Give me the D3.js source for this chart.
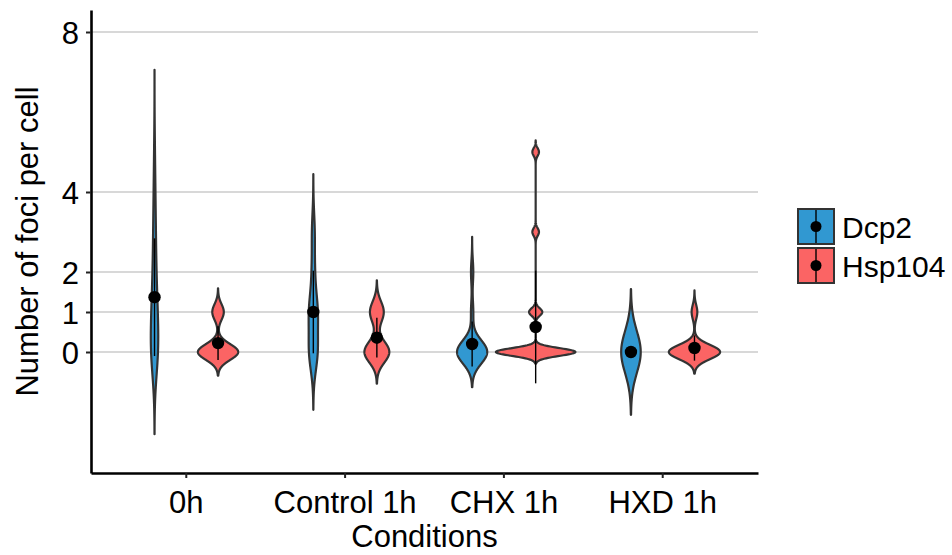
<!DOCTYPE html>
<html>
<head>
<meta charset="utf-8">
<script src="https://cdn.jsdelivr.net/npm/d3@7"></script>
<style>
  body { margin: 0; background: #fff; }
  text { font-family: "Liberation Sans", Arial, sans-serif; fill: #000; }
</style>
</head>
<body>
<div id="chart"></div>
<script>
// conditions on the x axis, proteins as dodged violins
const conditions = ["0h", "Control 1h", "CHX 1h", "HXD 1h"];
const proteins = ["Dcp2", "Hsp104"];
const colors = ["#3198d1", "#fb6464"];

// number of cells with 0, 1, 2, ... foci
const dcp2Counts = [
    [10, 7, 4, 3, 2, 1],
    [6, 6, 2, 2],
    [13, 1, 1],
    [15]
];
const hsp104Counts = [
    [21, 6],
    [9, 5],
    [12, 2, 0, 1, 0, 1],
    [9, 1]
];
const yTicks = [0, 1, 2, 4, 8];

// expand counts to raw values
function expand(counts) {
    const out = [];
    counts.forEach((c, k) => { for (let i = 0; i < c; i++) out.push(k); });
    return out;
}

// R's bw.nrd0
function bwNrd0(v) {
    const s = d3.deviation(v) || 0;
    const sorted = v.slice().sort(d3.ascending);
    const iqr = d3.quantileSorted(sorted, 0.75) - d3.quantileSorted(sorted, 0.25);
    let lo = Math.min(s, iqr / 1.34);
    if (!lo) lo = s || Math.abs(sorted[0]) || 1;
    return 0.9 * lo * Math.pow(v.length, -0.2);
}

// gaussian density, untrimmed (cut = 3)
function density(v) {
    const bw = bwNrd0(v);
    const lo = d3.min(v) - 3 * bw, hi = d3.max(v) + 3 * bw;
    const n = 512;
    const pts = [];
    for (let i = 0; i < n; i++) {
        const t = lo + (hi - lo) * i / (n - 1);
        let s = 0;
        for (const xi of v) {
            const z = (t - xi) / bw;
            s += Math.exp(-0.5 * z * z);
        }
        pts.push({v: t, d: s / (v.length * bw * Math.sqrt(2 * Math.PI))});
    }
    return pts;
}

const groups = [];
conditions.forEach((c, i) => {
    [dcp2Counts[i], hsp104Counts[i]].forEach((counts, j) => {
        const values = expand(counts);
        const m = d3.mean(values), sd = d3.deviation(values) || 0;
        groups.push({
            condition: c, protein: proteins[j], color: colors[j],
            dens: density(values), mean: m, lo: m - sd, hi: m + sd
        });
    });
});
const maxD = d3.max(groups, g => d3.max(g.dens, p => p.d));

const svg = d3.select("#chart").append("svg")
    .attr("width", 952).attr("height", 555);

const x = d3.scaleBand().domain(conditions).range([91, 758])
    .paddingInner(0).paddingOuter(0.1);
const xSub = d3.scaleBand().domain(proteins)
    .range([0.1 * x.bandwidth(), 0.9 * x.bandwidth()]);
const y = d3.scaleLinear().domain([-3.025, 8.55]).range([473, 10]);
const halfMax = 0.25 * x.bandwidth();
const cx = g => x(g.condition) + xSub(g.protein) + xSub.bandwidth() / 2;

// grid
svg.append("g").selectAll("line")
    .data(yTicks)
    .enter()
    .append("line")
    .attr("x1", 91).attr("x2", 758)
    .attr("y1", d => y(d)).attr("y2", d => y(d))
    .attr("stroke", "#cbcbcb")
    .attr("stroke-width", 1.6);

// violins
svg.append("g").selectAll("path")
    .data(groups)
    .enter()
    .append("path")
    .attr("d", g => d3.area()
        .y(p => y(p.v))
        .x0(p => cx(g) - p.d / maxD * halfMax)
        .x1(p => cx(g) + p.d / maxD * halfMax)(g.dens))
    .attr("fill", g => g.color)
    .attr("stroke", "#333333")
    .attr("stroke-width", 2.2)
    .attr("stroke-linejoin", "round");

// mean +/- sd
svg.append("g").selectAll("line")
    .data(groups)
    .enter()
    .append("line")
    .attr("x1", cx).attr("x2", cx)
    .attr("y1", g => y(g.lo)).attr("y2", g => y(g.hi))
    .attr("stroke", "#000")
    .attr("stroke-width", 1.4);

svg.append("g").selectAll("circle")
    .data(groups)
    .enter()
    .append("circle")
    .attr("cx", cx)
    .attr("cy", g => y(g.mean))
    .attr("r", 6.2)
    .attr("fill", "#000");

// axes
const yAxis = svg.append("g")
    .attr("transform", "translate(91,0)")
    .call(d3.axisLeft(y).tickValues(yTicks).tickSize(5).tickSizeOuter(0).tickPadding(7));
const xAxis = svg.append("g")
    .attr("transform", "translate(0,473)")
    .call(d3.axisBottom(x).tickSize(5).tickSizeOuter(0).tickPadding(13));

[yAxis, xAxis].forEach(a => {
    a.select(".domain").attr("stroke", "#000").attr("stroke-width", 2.6);
    a.selectAll(".tick line").attr("stroke", "#222").attr("stroke-width", 2);
    a.selectAll(".tick text")
        .style("font-family", "'Liberation Sans', Arial, sans-serif")
        .style("font-size", "31px")
        .attr("fill", "#000");
});
yAxis.selectAll(".tick text").attr("dy", "0.36em");
xAxis.selectAll(".tick text").attr("dy", "0.71em");

svg.append("text")
    .attr("x", 424.5).attr("y", 547)
    .attr("text-anchor", "middle")
    .style("font-size", "31px")
    .text("Conditions");

svg.append("text")
    .attr("transform", "translate(38,241.5) rotate(-90)")
    .attr("text-anchor", "middle")
    .style("font-size", "31px")
    .text("Number of foci per cell");

// legend
const legend = svg.append("g").attr("transform", "translate(798,209)");
const keys = legend.selectAll("g")
    .data(proteins)
    .enter()
    .append("g")
    .attr("transform", (d, i) => "translate(0," + (i * 39) + ")");
keys.append("rect")
    .attr("width", 36).attr("height", 35)
    .attr("fill", (d, i) => colors[i])
    .attr("stroke", "#333333")
    .attr("stroke-width", 2);
keys.append("line")
    .attr("x1", 18).attr("x2", 18)
    .attr("y1", 1).attr("y2", 34)
    .attr("stroke", "#000")
    .attr("stroke-width", 1.4);
keys.append("circle")
    .attr("cx", 18).attr("cy", 17.5).attr("r", 5.5)
    .attr("fill", "#000");
keys.append("text")
    .attr("x", 44).attr("y", 28.5)
    .style("font-size", "30px")
    .text(d => d);
</script>
</body>
</html>
